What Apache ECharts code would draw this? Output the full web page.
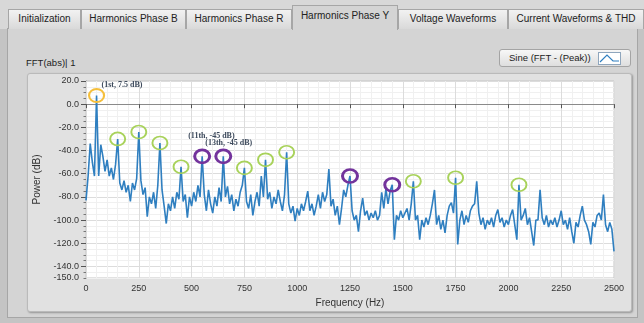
<!DOCTYPE html>
<html>
<head>
<meta charset="utf-8">
<title>Harmonics Phase Y</title>
<script src="https://cdn.jsdelivr.net/npm/echarts@6/dist/echarts.min.js"></script>
<style>
  html, body { margin: 0; padding: 0; }
  body { width: 644px; height: 323px; position: relative; overflow: hidden; background: #c4c4c4; font-family: 'Liberation Sans', Arial, sans-serif; }
  .top { position: absolute; left: 0; top: 0; width: 644px; height: 29px; background: #d8d8d8; }
  .tab { position: absolute; top: 9px; height: 20px; line-height: 18px; box-sizing: border-box; border: 1px solid #a6a6a6; border-bottom: none; background: linear-gradient(#f2f2f2, #d9d9d9); font-size: 10px; color: #222; text-align: center; white-space: nowrap; }
  .tab.active { top: 5px; height: 25px; line-height: 20px; background: #d4d4d4; z-index: 2; }
  .page { position: absolute; left: 7px; top: 28px; width: 631px; height: 290px; box-sizing: border-box; border: 1px solid #a6a6a6; background: #d4d4d4; }
  .panel { position: absolute; left: 27px; top: 73px; width: 605px; height: 239px; box-sizing: border-box; border: 1px solid #bababa; border-radius: 3px; background: #e1e1e1; box-shadow: 1px 1px 2px rgba(0,0,0,0.3); }
  .caption { position: absolute; left: 26px; top: 57px; font-size: 9.5px; color: #222; }
  .legend { position: absolute; left: 499px; top: 49px; width: 132px; height: 18px; box-sizing: border-box; border: 1px solid #a4a4a4; border-radius: 3px; background: linear-gradient(#f7f7f7, #dedede); font-size: 9.5px; color: #222; }
  .legend span { position: absolute; left: 9px; top: 2px; }
  .legend svg { position: absolute; left: 98px; top: 2px; }
  #main { position: absolute; left: 0; top: 0; width: 644px; height: 323px; }
</style>
</head>
<body>
<div class="top"></div>
<div class="page"></div>
<div class="tab" style="left:8px;width:73px">Initialization</div>
<div class="tab" style="left:81px;width:105px">Harmonics Phase B</div>
<div class="tab" style="left:186px;width:106px">Harmonics Phase R</div>
<div class="tab active" style="left:292px;width:106px">Harmonics Phase Y</div>
<div class="tab" style="left:398px;width:110px">Voltage Waveforms</div>
<div class="tab" style="left:508px;width:136px">Current Waveforms &amp; THD</div>
<div class="caption">FFT(abs)| 1</div>
<div class="legend"><span>Sine (FFT - (Peak))</span>
  <svg width="23" height="13"><rect x="0.5" y="0.5" width="22" height="12" fill="#fff" stroke="#8fa6bd"/><path d="M2 10 L9 3 L15 9 L21 9" fill="none" stroke="#2f7fc0" stroke-width="1.2"/></svg>
</div>
<div class="panel"></div>
<div id="main"></div>
<script>
// spectrum bins, 10 Hz apart, starting at 0 Hz (dB)
const binHz = 10;
const power = [
  -83, -62, -34, -50, -62, 7.5, -62, -35, -45, -58,      // 0
  -48, -62, -55, -65, -52, -30, -68, -74, -66, -76,      // 100
  -70, -84, -68, -74, -64, -24, -66, -78, -72, -97,      // 200
  -80, -86, -76, -90, -70, -33.5, -74, -88, -103, -86,   // 300
  -92, -80, -90, -76, -82, -54, -84, -78, -98, -80,      // 400
  -88, -76, -84, -70, -80, -45, -78, -92, -74, -86,      // 500
  -94, -80, -88, -72, -84, -45, -80, -71, -86, -78,      // 600
  -92, -82, -88, -76, -70, -55, -84, -90, -78, -96,      // 700
  -84, -76, -88, -62, -80, -48, -82, -76, -90, -80,      // 800
  -86, -74, -84, -92, -78, -41.5, -86, -94, -88, -101,   // 900
  -90, -96, -86, -92, -84, -75, -92, -86, -96, -88,      // 1000
  -78, -90, -76, -84, -78, -56, -88, -82, -96, -88,      // 1100
  -104, -90, -74, -80, -70, -62, -92, -100, -96, -110,   // 1200
  -92, -81, -96, -92, -100, -94, -98, -92, -100, -96,    // 1300
  -76, -90, -73, -86, -75, -69.5, -117, -96, -100, -92,  // 1400
  -98, -94, -90, -100, -86, -66.5, -100, -96, -117, -100, // 1500
  -106, -98, -104, -96, -86, -74, -104, -96, -108, -100, // 1600
  -111, -96, -88, -85, -94, -63.5, -121, -100, -92, -104, // 1700
  -96, -102, -92, -88, -86, -66.5, -94, -104, -98, -108, // 1800
  -100, -104, -98, -106, -96, -91, -102, -98, -106, -100, // 1900
  -104, -96, -91, -104, -117, -69.5, -100, -96, -90, -104, // 2000
  -98, -110, -122, -100, -100, -74, -98, -104, -96, -106, // 2100
  -100, -104, -98, -106, -100, -92, -104, -100, -108, -98, // 2200
  -110, -120, -102, -106, -96, -88, -100, -104, -110, -121, // 2300
  -102, -106, -96, -94, -100, -78, -104, -110, -102, -108, // 2400
  -127                                                    // 2500
];

// circled harmonics
const fundamentalHz = [50];
const harmonicHz = [150, 250, 350, 450, 750, 850, 950, 1550, 1750, 2050];
const flaggedHz = [550, 650, 1250, 1450];
// annotated peaks
const notedHz = [50, 550, 650];
const notedOrder = ['1st', '11th', '13th'];

const freqMax = 2500;
const dbMin = -150, dbMax = 20, dbMajorMin = -140;

const plot = { left: 86, top: 81, width: 528, height: 197 };
const noteOffset = { 50: [5, -11], 550: [-14, -20.5], 650: [-18, -13.5] };

const lineColor = '#2f7fc0';
const ringColor = { fundamental: '#f5bf3c', harmonic: '#a8d25a', flagged: '#73339c' };

const myChart = echarts.init(document.getElementById('main'));

function ring(hz, color, width) {
  const v = power[hz / binHz];
  const item = {
    coord: [hz, v],
    itemStyle: { color: 'rgba(0,0,0,0)', borderColor: color, borderWidth: width },
    label: { show: false }
  };
  const k = notedHz.indexOf(hz);
  if (k >= 0) {
    item.label = {
      show: true,
      position: 'inside',
      align: 'left',
      verticalAlign: 'middle',
      offset: noteOffset[hz],
      formatter: '(' + notedOrder[k] + ', ' + v + ' dB)',
      fontFamily: 'Liberation Serif, serif',
      fontWeight: 'bold',
      fontSize: 8,
      color: '#3d4a5c'
    };
  }
  return item;
}

const rings = [].concat(
  harmonicHz.map(hz => ring(hz, ringColor.harmonic, 1.8)),
  flaggedHz.map(hz => ring(hz, ringColor.flagged, 2.8)),
  fundamentalHz.map(hz => ring(hz, ringColor.fundamental, 2))
);

const axisFont = { fontFamily: 'Liberation Sans Narrow, Liberation Sans, sans-serif', fontSize: 9, color: '#333' };

const option = {
  animation: false,
  grid: [
    { left: plot.left, top: plot.top, width: plot.width, height: plot.height, show: true,
      backgroundColor: '#ffffff', borderColor: '#c4c4c4', borderWidth: 1 },
    { left: plot.left, top: plot.top, width: plot.width,
      height: plot.height * (dbMax - dbMajorMin) / (dbMax - dbMin), show: false }
  ],
  xAxis: [
    { type: 'value', gridIndex: 0, min: 0, max: freqMax, interval: 250, z: 1,
      name: 'Frequency (Hz)', nameLocation: 'middle', nameGap: 17,
      nameTextStyle: { fontSize: 10, color: '#333' },
      axisLine: { show: true, lineStyle: { color: '#8a8a8a' } },
      axisTick: { show: true, length: 4, lineStyle: { color: '#555' } },
      axisLabel: Object.assign({ margin: 6, formatter: v => String(v) }, axisFont),
      splitLine: { show: true, lineStyle: { color: '#dcdcdc' } },
      minorTick: { show: false, splitNumber: 5 },
      minorSplitLine: { show: true, lineStyle: { color: '#f0f0f0' } } },
    { type: 'value', gridIndex: 1, min: 0, max: freqMax, show: false }
  ],
  yAxis: [
    { type: 'value', gridIndex: 0, min: dbMin, max: dbMax, interval: 5,
      name: 'Power (dB)', nameLocation: 'middle', nameGap: 37, nameRotate: 90,
      nameTextStyle: { fontSize: 10, color: '#333' },
      axisLine: { show: true, lineStyle: { color: '#8a8a8a' } },
      axisTick: { show: true, length: 2.5, lineStyle: { color: '#777' } },
      axisLabel: Object.assign({ margin: 7, formatter: v => v === dbMin ? v.toFixed(1) : '' }, axisFont),
      splitLine: { show: true, lineStyle: { color: '#f0f0f0' } } },
    { type: 'value', gridIndex: 1, min: dbMajorMin, max: dbMax, interval: 20, z: 1,
      axisLine: { show: false },
      axisTick: { show: true, length: 5, lineStyle: { color: '#555' } },
      axisLabel: Object.assign({ margin: 7, formatter: v => v.toFixed(1) }, axisFont),
      splitLine: { show: true, lineStyle: { color: '#dcdcdc' } } }
  ],
  series: [
    {
      name: 'Sine (FFT - (Peak))',
      type: 'line',
      xAxisIndex: 0,
      yAxisIndex: 0,
      showSymbol: false,
      lineStyle: { color: lineColor, width: 1.6 },
      data: power.map((v, i) => [i * binHz, v]),
      markPoint: {
        symbol: 'circle',
        symbolSize: [15, 13],
        silent: true,
        data: rings
      }
    }
  ]
};
myChart.setOption(option);
</script>
</body>
</html>
